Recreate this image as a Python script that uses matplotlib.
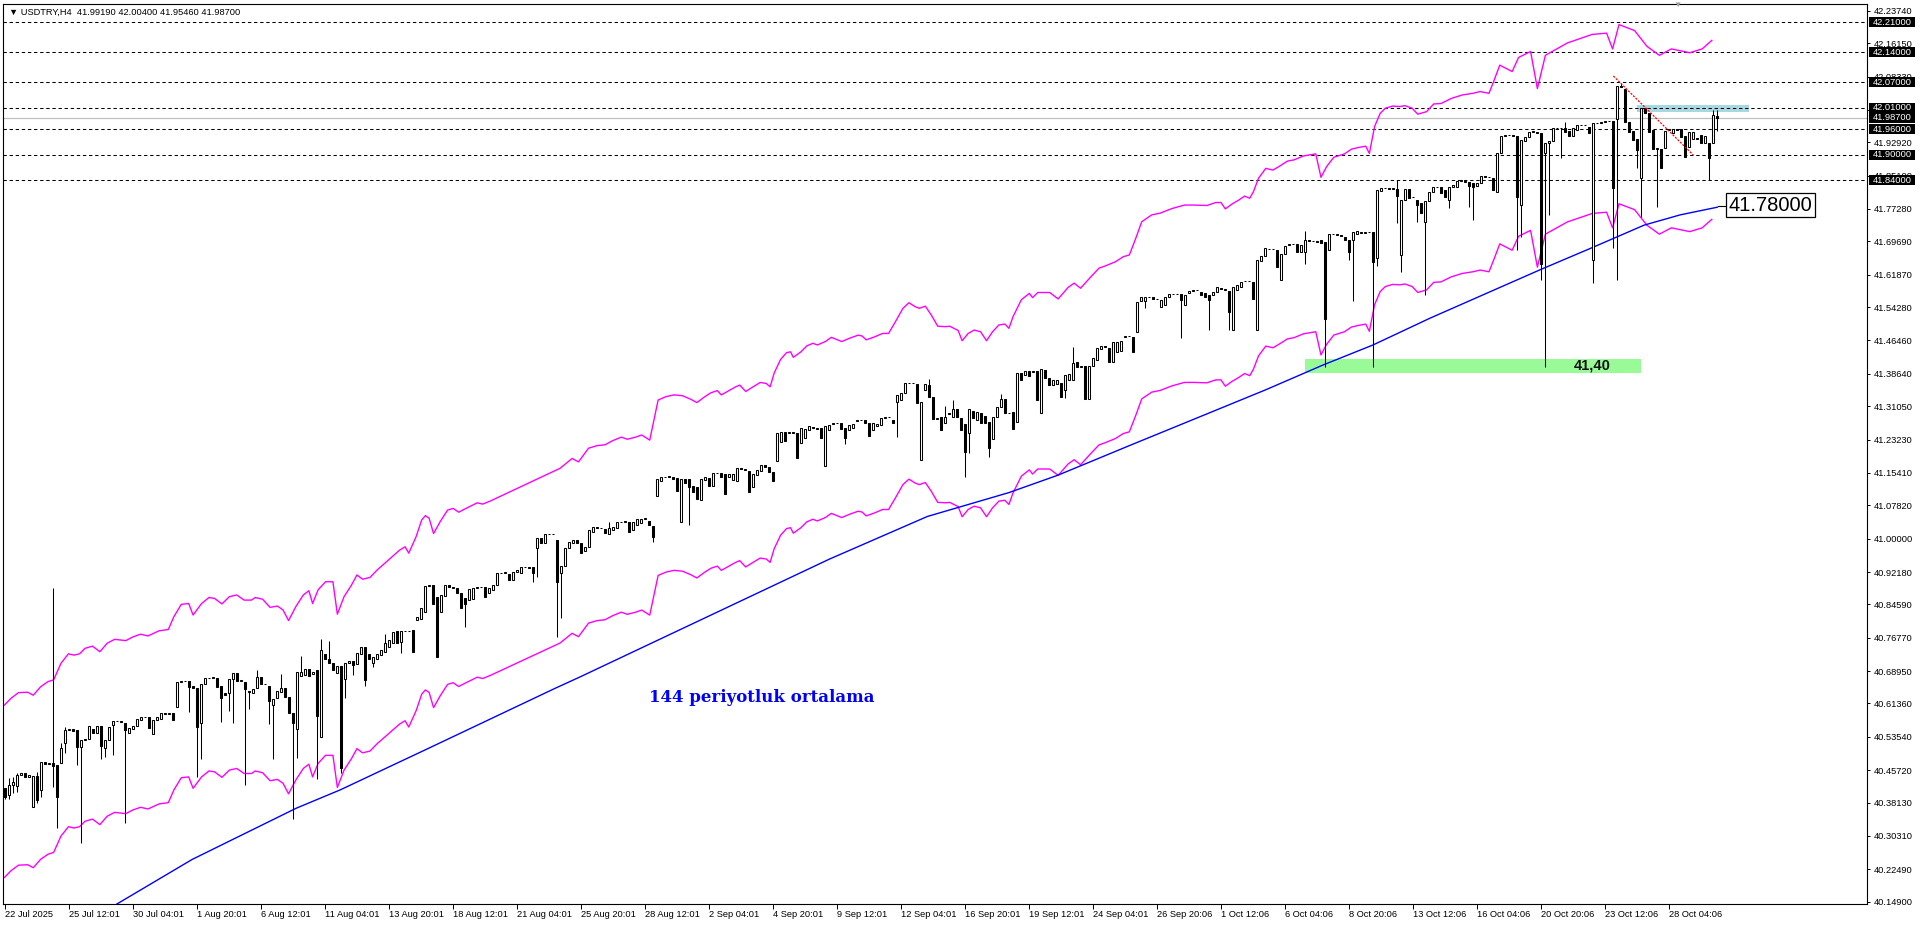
import numpy as np
import matplotlib
matplotlib.use("Agg")
import matplotlib.pyplot as plt
import matplotlib.transforms as mtransforms
from matplotlib.patches import Rectangle

plt.rcParams['font.family'] = ['Liberation Sans', 'DejaVu Sans']
plt.rcParams['lines.scale_dashes'] = False

# H4 candles, one per bar index
opens = [
    40.415, 40.399, 40.423, 40.420, 40.445, 40.450, 40.442, 40.370, 40.444, 40.412,
    40.476, 40.471, 40.474, 40.469, 40.473, 40.520, 40.551, 40.553, 40.551, 40.511,
    40.528, 40.530, 40.553, 40.545, 40.561, 40.509, 40.528, 40.563, 40.573, 40.572,
    40.567, 40.545, 40.553, 40.562, 40.575, 40.583, 40.583, 40.542, 40.575, 40.578,
    40.592, 40.590, 40.591, 40.605, 40.665, 40.666, 40.666, 40.655, 40.649, 40.569,
    40.659, 40.673, 40.674, 40.674, 40.655, 40.639, 40.639, 40.670, 40.684, 40.667,
    40.665, 40.643, 40.639, 40.649, 40.675, 40.659, 40.655, 40.610, 40.626, 40.641,
    40.649, 40.630, 40.592, 40.553, 40.678, 40.680, 40.694, 40.683, 40.691, 40.534,
    40.730, 40.719, 40.709, 40.686, 40.702, 40.670, 40.709, 40.714, 40.706, 40.730,
    40.747, 40.730, 40.708, 40.719, 40.727, 40.735, 40.747, 40.756, 40.784, 40.758,
    40.784, 40.783, 40.786, 40.809, 40.811, 40.829, 40.890, 40.891, 40.864, 40.829,
    40.866, 40.891, 40.887, 40.884, 40.872, 40.860, 40.856, 40.859, 40.884, 40.887,
    40.887, 40.873, 40.880, 40.891, 40.919, 40.920, 40.917, 40.903, 40.923, 40.920,
    40.934, 40.933, 40.934, 40.977, 41.001, 40.989, 41.011, 41.010, 40.997, 40.920,
    40.936, 40.977, 40.990, 40.997, 40.989, 40.972, 40.981, 41.016, 41.027, 41.024,
    41.022, 41.011, 41.020, 41.026, 41.038, 41.040, 41.038, 41.020, 41.032, 41.036,
    41.046, 41.041, 41.030, 41.100, 41.134, 41.144, 41.145, 41.145, 41.143, 41.038,
    41.139, 41.139, 41.124, 41.120, 41.091, 41.138, 41.143, 41.124, 41.155, 41.153,
    41.152, 41.144, 41.138, 41.136, 41.165, 41.163, 41.159, 41.122, 41.149, 41.159,
    41.173, 41.167, 41.157, 41.181, 41.227, 41.251, 41.248, 41.249, 41.247, 41.225,
    41.235, 41.255, 41.262, 41.260, 41.260, 41.171, 41.255, 41.268, 41.270, 41.272,
    41.259, 41.255, 41.260, 41.276, 41.277, 41.278, 41.270, 41.255, 41.263, 41.266,
    41.284, 41.286, 41.278, 41.321, 41.325, 41.341, 41.366, 41.365, 41.363, 41.184,
    41.349, 41.360, 41.331, 41.281, 41.286, 41.272, 41.294, 41.286, 41.305, 41.282,
    41.269, 41.247, 41.300, 41.278, 41.294, 41.288, 41.274, 41.233, 41.286, 41.308,
    41.327, 41.294, 41.298, 41.274, 41.388, 41.384, 41.392, 41.391, 41.392, 41.294,
    41.395, 41.376, 41.360, 41.363, 41.364, 41.349, 41.372, 41.372, 41.413, 41.403,
    41.404, 41.327, 41.404, 41.419, 41.444, 41.452, 41.446, 41.413, 41.438, 41.440,
    41.472, 41.474, 41.472, 41.485, 41.556, 41.556, 41.566, 41.566, 41.562, 41.544,
    41.548, 41.567, 41.573, 41.574, 41.574, 41.548, 41.576, 41.580, 41.583, 41.579,
    41.575, 41.571, 41.571, 41.579, 41.588, 41.586, 41.581, 41.488, 41.583, 41.591,
    41.603, 41.605, 41.602, 41.488, 41.650, 41.663, 41.680, 41.679, 41.677, 41.606,
    41.667, 41.689, 41.690, 41.690, 41.673, 41.673, 41.699, 41.698, 41.697, 41.700,
    41.696, 41.677, 41.714, 41.713, 41.712, 41.708, 41.700, 41.700, 41.714, 41.720,
    41.717, 41.718, 41.718, 41.657, 41.814, 41.822, 41.821, 41.819, 41.819, 41.665,
    41.795, 41.819, 41.800, 41.795, 41.786, 41.743, 41.792, 41.813, 41.825, 41.825,
    41.817, 41.794, 41.824, 41.824, 41.839, 41.839, 41.837, 41.834, 41.827, 41.833,
    41.849, 41.848, 41.845, 41.813, 41.903, 41.945, 41.946, 41.946, 41.944, 41.782,
    41.931, 41.942, 41.954, 41.954, 41.952, 41.903, 41.927, 41.931, 41.962, 41.963,
    41.962, 41.956, 41.945, 41.958, 41.970, 41.969, 41.966, 41.653, 41.975, 41.974,
    41.977, 41.979, 41.980, 41.983, 42.060, 42.053, 41.977, 41.956, 41.936, 41.845,
    42.009, 41.997, 41.958, 41.913, 41.913, 41.915, 41.957, 41.952, 41.960, 41.960,
    41.944, 41.919, 41.936, 41.940, 41.946, 41.927, 41.927, 41.927, 41.9919,
]
closes = [
    40.394, 40.423, 40.429, 40.445, 40.450, 40.442, 40.446, 40.444, 40.387, 40.477,
    40.471, 40.474, 40.468, 40.395, 40.509, 40.551, 40.553, 40.550, 40.512, 40.528,
    40.530, 40.561, 40.545, 40.561, 40.514, 40.528, 40.558, 40.573, 40.572, 40.571,
    40.551, 40.555, 40.562, 40.578, 40.583, 40.582, 40.557, 40.575, 40.583, 40.592,
    40.590, 40.591, 40.575, 40.665, 40.666, 40.666, 40.653, 40.649, 40.559, 40.659,
    40.673, 40.674, 40.675, 40.652, 40.626, 40.634, 40.671, 40.684, 40.667, 40.669,
    40.647, 40.641, 40.647, 40.676, 40.659, 40.660, 40.620, 40.623, 40.644, 40.649,
    40.628, 40.592, 40.569, 40.687, 40.687, 40.694, 40.679, 40.688, 40.584, 40.739,
    40.719, 40.709, 40.692, 40.702, 40.462, 40.709, 40.714, 40.704, 40.731, 40.747,
    40.669, 40.719, 40.723, 40.730, 40.739, 40.756, 40.762, 40.782, 40.755, 40.784,
    40.783, 40.784, 40.735, 40.816, 40.837, 40.890, 40.891, 40.848, 40.723, 40.868,
    40.891, 40.887, 40.884, 40.872, 40.837, 40.848, 40.881, 40.884, 40.887, 40.886,
    40.864, 40.884, 40.891, 40.919, 40.920, 40.923, 40.903, 40.923, 40.926, 40.934,
    40.933, 40.931, 40.920, 41.001, 40.989, 41.011, 41.010, 41.011, 40.899, 40.936,
    40.977, 40.993, 40.998, 40.989, 40.966, 40.981, 41.020, 41.027, 41.024, 41.025,
    41.013, 41.024, 41.028, 41.038, 41.040, 41.041, 41.016, 41.038, 41.045, 41.046,
    41.048, 41.032, 41.005, 41.139, 41.144, 41.145, 41.147, 41.139, 41.112, 41.139,
    41.131, 41.122, 41.110, 41.092, 41.141, 41.144, 41.124, 41.155, 41.154, 41.145,
    41.104, 41.152, 41.152, 41.165, 41.163, 41.162, 41.110, 41.152, 41.161, 41.173,
    41.169, 41.157, 41.134, 41.247, 41.251, 41.230, 41.249, 41.247, 41.190, 41.259,
    41.256, 41.263, 41.260, 41.258, 41.235, 41.265, 41.267, 41.270, 41.271, 41.256,
    41.235, 41.266, 41.268, 41.277, 41.278, 41.272, 41.241, 41.270, 41.269, 41.284,
    41.286, 41.285, 41.270, 41.337, 41.342, 41.366, 41.365, 41.366, 41.319, 41.320,
    41.363, 41.331, 41.280, 41.282, 41.255, 41.286, 41.293, 41.305, 41.286, 41.255,
    41.204, 41.305, 41.282, 41.298, 41.270, 41.272, 41.212, 41.286, 41.308, 41.327,
    41.294, 41.295, 41.256, 41.388, 41.372, 41.392, 41.381, 41.392, 41.325, 41.397,
    41.376, 41.360, 41.372, 41.372, 41.333, 41.384, 41.386, 41.411, 41.402, 41.404,
    41.327, 41.404, 41.423, 41.446, 41.452, 41.450, 41.415, 41.460, 41.460, 41.463,
    41.474, 41.475, 41.438, 41.554, 41.567, 41.566, 41.566, 41.562, 41.562, 41.560,
    41.567, 41.573, 41.574, 41.574, 41.559, 41.571, 41.580, 41.583, 41.582, 41.571,
    41.567, 41.559, 41.579, 41.589, 41.586, 41.583, 41.532, 41.591, 41.595, 41.602,
    41.605, 41.604, 41.561, 41.653, 41.663, 41.681, 41.679, 41.678, 41.636, 41.667,
    41.686, 41.690, 41.691, 41.673, 41.688, 41.700, 41.698, 41.697, 41.696, 41.694,
    41.516, 41.714, 41.713, 41.712, 41.709, 41.700, 41.673, 41.720, 41.722, 41.717,
    41.718, 41.718, 41.649, 41.817, 41.823, 41.821, 41.819, 41.823, 41.803, 41.795,
    41.819, 41.798, 41.800, 41.782, 41.763, 41.792, 41.813, 41.825, 41.824, 41.811,
    41.802, 41.825, 41.829, 41.839, 41.839, 41.837, 41.827, 41.825, 41.833, 41.849,
    41.848, 41.847, 41.817, 41.903, 41.944, 41.946, 41.946, 41.944, 41.802, 41.935,
    41.942, 41.954, 41.954, 41.952, 41.644, 41.927, 41.931, 41.962, 41.963, 41.962,
    41.954, 41.944, 41.962, 41.970, 41.969, 41.970, 41.952, 41.975, 41.974, 41.977,
    41.979, 41.980, 41.823, 42.060, 42.058, 41.977, 41.954, 41.935, 41.911, 42.009,
    41.997, 41.954, 41.913, 41.915, 41.870, 41.956, 41.960, 41.960, 41.959, 41.942,
    41.894, 41.954, 41.954, 41.938, 41.927, 41.944, 41.892, 41.993, 41.987,
]
# wicks that stick out past the body
high_wicks = {1: 40.438, 2: 40.441, 3: 40.451, 8: 40.454, 12: 40.884, 14: 40.520,
              15: 40.559, 63: 40.691, 69: 40.683, 74: 40.725, 79: 40.764, 81: 40.759,
              95: 40.777, 151: 41.040, 231: 41.374, 235: 41.310, 237: 41.325,
              249: 41.338, 267: 41.450, 325: 41.722, 348: 41.841, 390: 41.977,
              403: 42.061, 404: 42.067, 427: 42.004, 428: 42.004}
low_wicks = {0: 40.389, 1: 40.389, 2: 40.403, 3: 40.407, 8: 40.380, 9: 40.395,
             12: 40.419, 13: 40.321, 15: 40.497, 18: 40.469, 19: 40.286, 24: 40.483,
             25: 40.489, 27: 40.493, 30: 40.334, 46: 40.594, 48: 40.442, 49: 40.483,
             54: 40.571, 56: 40.597, 57: 40.569, 60: 40.422, 61: 40.600, 66: 40.566,
             67: 40.483, 72: 40.344, 73: 40.487, 78: 40.436, 84: 40.450, 85: 40.626,
             87: 40.681, 90: 40.655, 92: 40.700, 99: 40.731, 115: 40.792, 132: 40.899,
             133: 40.911, 138: 40.769, 139: 40.813, 162: 40.993, 171: 41.032,
             210: 41.223, 223: 41.238, 240: 41.144, 241: 41.200, 246: 41.191,
             265: 41.329, 285: 41.540, 294: 41.470, 301: 41.488, 306: 41.488,
             325: 41.645, 330: 41.403, 336: 41.653, 337: 41.556, 342: 41.403,
             343: 41.638, 348: 41.739, 349: 41.626, 353: 41.743, 355: 41.571,
             361: 41.774, 366: 41.778, 367: 41.747, 378: 41.677, 379: 41.708,
             384: 41.606, 385: 41.403, 386: 41.759, 389: 41.892, 397: 41.599,
             402: 41.681, 403: 41.606, 408: 41.870, 409: 41.753, 413: 41.777,
             426: 41.841, 428: 41.9546}

# 144 period moving average (blue)
ma_x = [28.1, 46.9, 72.9, 83.9, 106.1, 137.6, 143.9, 206.2, 230.7, 251.1, 263.4,
        281.7, 298.9, 315.3, 329.6, 342.1, 356.4, 372.4, 384.05, 396.6, 409.9,
        418.9, 428.2]
ma_y = [40.1436, 40.248, 40.368, 40.411, 40.509, 40.649, 40.676, 40.952, 41.052,
        41.108, 41.149, 41.220, 41.286, 41.349, 41.407, 41.454, 41.517, 41.583,
        41.631, 41.681, 41.735, 41.759, 41.777]

# upper envelope line (magenta); lower one sits at the same +/-0.5% around the mid
env_x = [0, 1.65, 3.5, 5.81, 7.2, 9.05, 10.9, 12.28, 14.13, 15.98, 17.37, 18.76,
         20.14, 22.0, 23.84, 25.69, 27.54, 30.32, 32.17, 34.02, 35.87, 38.64, 40.95,
         42.34, 44.19, 46.04, 47.15, 49.27, 51.12, 52.51, 54.36, 56.21, 58.06, 59.91,
         61.76, 62.68, 64.53, 66.38, 68.23, 69.62, 71.01, 72.85, 74.7, 76.09, 77.02,
         78.4, 80.25, 82.1, 83.21, 84.88, 86.73, 88.11, 89.5, 91.35, 93.2, 95.51,
         98.75, 100.14, 101.06, 102.91, 104.3, 105.22, 106.15, 107.26, 108.92,
         110.77, 112.16, 113.54, 115.39, 118.17, 119.56, 121.4,
         138.9, 141.9, 143.5, 146.0, 148.1, 150.1, 152.1, 154.2, 155.7, 157.8,
         159.3, 161.3, 163.4, 165.4, 167.4, 169.5, 171.5, 173.1, 175.1, 176.6,
         178.2, 179.2, 180.7, 182.8, 183.8, 185.3, 186.8, 188.9, 190.4, 191.4,
         192.4, 194.0, 195.5, 196.5, 197.2, 199.1, 200.6, 202.1, 203.2, 205.2,
         206.7, 209.3, 211.3, 213.4, 214.4, 215.4, 217.5, 219.5, 221.0, 222.5,
         224.6, 226.1, 227.6, 228.7, 230.2, 231.7, 233.3, 235.3, 236.3, 238.4,
         239.4, 240.9, 242.4, 244.0, 245.5, 247.0, 248.6, 250.1, 251.1, 252.1,
         254.2, 256.2, 257.0, 258.3, 261.3, 263.4, 265.9, 267.4, 269.0, 271.5,
         273.6, 275.1, 277.7, 279.7, 281.2, 282.8, 284.3, 286.8, 288.9, 291.9,
         295.0, 297.4, 300.6, 302.8, 304.1, 305.2, 306.8, 308.6, 310.0, 311.3,
         312.2, 313.5, 315.3, 317.1, 318.9, 320.7, 322.4, 324.7, 327.8, 329.1,
         330.5, 332.3, 335.0, 336.7, 338.5, 340.3, 341.2, 342.5, 343.9, 345.2,
         347.0, 348.8, 350.1, 351.9, 353.3, 355.5, 357.3, 359.1, 361.7, 364.4,
         367.1, 368.9, 371.1, 372.4, 373.8, 376.9, 378.5, 381.5, 383.2, 385.2,
         390.7, 396.9, 400.5, 402.0, 403.6, 407.5, 410.6, 413.7, 416.7, 421.3,
         424.4, 426.8]
env_up = [40.610, 40.626, 40.639, 40.640, 40.633, 40.653, 40.665, 40.669, 40.708,
          40.730, 40.727, 40.730, 40.743, 40.748, 40.735, 40.755, 40.764, 40.761,
          40.770, 40.776, 40.772, 40.784, 40.787, 40.817, 40.846, 40.848, 40.821,
          40.848, 40.862, 40.860, 40.847, 40.864, 40.868, 40.856, 40.856, 40.862,
          40.858, 40.839, 40.842, 40.833, 40.808, 40.841, 40.868, 40.878, 40.848,
          40.880, 40.899, 40.899, 40.823, 40.864, 40.891, 40.915, 40.905, 40.909,
          40.927, 40.946, 40.973, 40.981, 40.966, 41.005, 41.044, 41.054, 41.048,
          41.012, 41.040, 41.067, 41.071, 41.062, 41.071, 41.084, 41.081, 41.088,
          41.165, 41.188, 41.180, 41.212, 41.218, 41.220, 41.230, 41.238, 41.233,
          41.238, 41.243, 41.231, 41.325, 41.333, 41.337, 41.335, 41.327, 41.319,
          41.333, 41.342, 41.347, 41.337, 41.345, 41.356, 41.360, 41.345, 41.354,
          41.366, 41.364, 41.356, 41.388, 41.420, 41.436, 41.438, 41.425, 41.438,
          41.452, 41.458, 41.454, 41.462, 41.472, 41.462, 41.470, 41.477, 41.475,
          41.466, 41.473, 41.481, 41.481, 41.505, 41.540, 41.553, 41.544, 41.540,
          41.545, 41.524, 41.498, 41.497, 41.498, 41.488, 41.464, 41.481, 41.489,
          41.485, 41.464, 41.485, 41.501, 41.503, 41.493, 41.520, 41.560, 41.575,
          41.565, 41.577, 41.577, 41.562, 41.589, 41.599, 41.587, 41.613, 41.634,
          41.639, 41.649, 41.661, 41.665, 41.704, 41.743, 41.759, 41.763, 41.774,
          41.782, 41.782, 41.781, 41.788, 41.788, 41.773, 41.784, 41.794, 41.803,
          41.798, 41.813, 41.845, 41.868, 41.864, 41.874, 41.885, 41.888, 41.897,
          41.902, 41.847, 41.872, 41.894, 41.902, 41.913, 41.917, 41.920, 41.903,
          41.966, 41.997, 42.009, 42.014, 42.013, 42.015, 42.009, 41.995, 42.001,
          42.019, 42.020, 42.032, 42.040, 42.044, 42.048, 42.044, 42.075, 42.110,
          42.095, 42.128, 42.142, 42.055, 42.133, 42.162, 42.182, 42.185, 42.148,
          42.205, 42.191, 42.154, 42.133, 42.148, 42.139, 42.148, 42.168]
env_dev = 0.005

# support / resistance levels drawn as dashed lines
levels = [42.21, 42.14, 42.07, 42.01, 41.96, 41.90, 41.84]
bid = 41.987

y_ticks = [42.23740, 42.16150, 42.08330, 42.00510, 41.92920, 41.85100, 41.77280,
           41.69690, 41.61870, 41.54280, 41.46460, 41.38640, 41.31050, 41.23230,
           41.15410, 41.07820, 41.00000, 40.92180, 40.84590, 40.76770, 40.68950,
           40.61360, 40.53540, 40.45720, 40.38130, 40.30310, 40.22490, 40.14900]
x_labels = ["22 Jul 2025", "25 Jul 12:01", "30 Jul 04:01", "1 Aug 20:01", "6 Aug 12:01",
            "11 Aug 04:01", "13 Aug 20:01", "18 Aug 12:01", "21 Aug 04:01",
            "25 Aug 20:01", "28 Aug 12:01", "2 Sep 04:01", "4 Sep 20:01",
            "9 Sep 12:01", "12 Sep 04:01", "16 Sep 20:01", "19 Sep 12:01",
            "24 Sep 04:01", "26 Sep 20:06", "1 Oct 12:06", "6 Oct 04:06",
            "8 Oct 20:06", "13 Oct 12:06", "16 Oct 04:06", "20 Oct 20:06",
            "23 Oct 12:06", "28 Oct 04:06"]
bars_per_label = 16

W, H = 1920, 927
fig = plt.figure(figsize=(W / 100, H / 100), dpi=100)
ax = fig.add_axes([3 / W, (H - 904) / H, (1867 - 3) / W, (904 - 4) / H])
ax.set_xlim(-0.375, 465.6)
ax.set_ylim(40.1436, 42.2533)

# zones
ax.add_patch(Rectangle((325.1, 41.389), 83.95, 0.0322, fc='#98fb98', ec='none', zorder=1))
ax.add_patch(Rectangle((408.2, 42.0009), 27.9, 0.0157, fc='#a8d8e2', ec='none', zorder=1))

for lv in levels:
    ax.axhline(lv, color='black', lw=0.75, ls=(0, (2.4, 2.0)), zorder=1.5)
ax.axhline(bid, color='#c0c0c0', lw=0.9, zorder=1.5)

# candles
o = np.array(opens)
c = np.array(closes)
x = np.arange(len(c))
hi = np.maximum(o, c)
lo = np.minimum(o, c)
for i, v in high_wicks.items():
    hi[i] = max(hi[i], v)
for i, v in low_wicks.items():
    lo[i] = min(lo[i], v)
ax.vlines(x, lo, hi, color='black', lw=0.75, zorder=3)
up = c >= o
body = np.maximum(np.abs(c - o), 0.0006)
bottom = np.minimum(o, c)
ax.bar(x[up], body[up], bottom=bottom[up], width=0.5, color='white',
       edgecolor='black', lw=0.75, zorder=4)
ax.bar(x[~up], body[~up], bottom=bottom[~up], width=0.5, color='black',
       edgecolor='black', lw=0.75, zorder=4)

# indicators
env_mid = np.array(env_up) / (1 + env_dev)
ax.plot(env_x, env_up, color='#ff00ff', lw=1.0, zorder=2)
ax.plot(env_x, env_mid * (1 - env_dev), color='#ff00ff', lw=1.0, zorder=2)
ax.plot(ma_x, ma_y, color='#0000ff', lw=1.0, zorder=2.5)

# trend line
ax.plot([402.2, 422.2], [42.0845, 41.899], color='red', lw=0.9,
        ls=(0, (1.5, 1.0)), zorder=5)

ax.text(397.0, 41.4055, '41,40', ha='center', va='center', fontsize=10.5,
        fontweight='bold', color='#111111', zorder=6)
ax.text(189.3, 40.6265, '144 periyotluk ortalama', ha='center', va='center',
        fontsize=12, fontweight='bold', color='#0000ff',
        family=['DejaVu Serif'], zorder=6)

# price label for the average
ax.plot([428.3, 430.9], [41.7805, 41.7805], color='black', lw=0.8, zorder=6)
ax.text(431.0, 41.7815, '41.78000', ha='left', va='center', fontsize=14.5,
        color='black', zorder=6,
        bbox=dict(boxstyle='square,pad=0.12', fc='white', ec='black', lw=0.9))

# axes styling
for s in ax.spines.values():
    s.set_linewidth(0.8)
ax.yaxis.tick_right()
ax.set_yticks(y_ticks)
ax.set_yticklabels([f'{v:.5f}' for v in y_ticks])
ax.tick_params(axis='y', direction='out', length=2, width=0.7, pad=3,
               labelsize=6.7, colors='black')
ax.set_xticks(np.arange(len(x_labels)) * bars_per_label)
ax.set_xticklabels(x_labels, ha='left')
ax.tick_params(axis='x', direction='out', length=3.5, width=0.7, pad=0.5,
               labelsize=6.7, colors='black')

# black boxes on the price scale for the drawn levels
trans = mtransforms.blended_transform_factory(ax.transAxes, ax.transData)
for lv in levels + [bid]:
    ax.add_patch(Rectangle((1.0011, lv - 0.0117), 0.0247, 0.0234, transform=trans,
                           fc='black', ec='none', clip_on=False, zorder=7))
    ax.text(1.003, lv, f'{lv:.5f}', transform=trans, ha='left', va='center',
            fontsize=6.7, color='white', zorder=8, clip_on=False)

fig.text(9 / W, 1 - 12.7 / H, '\u25bc USDTRY,H4  41.99190 42.00400 41.95460 41.98700',
         fontsize=6.7, va='center', ha='left')
fig.text(1677 / W, 1 - 5 / H, '\u25bc', fontsize=6, color='#a0a0a0', ha='center', va='center')

fig.savefig('out.png', dpi=100, facecolor='white')
